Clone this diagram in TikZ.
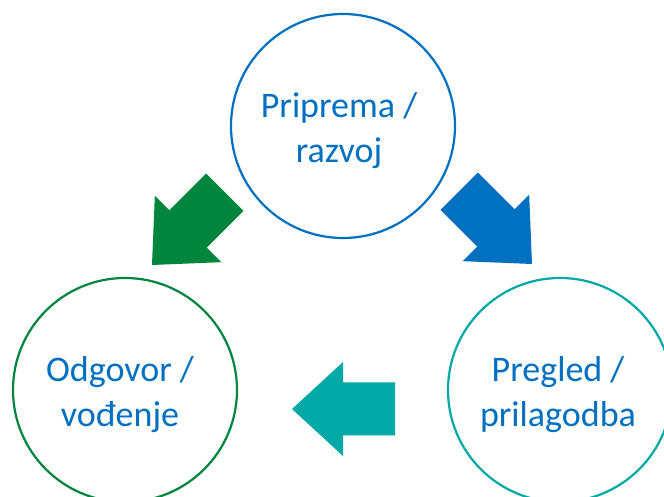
\documentclass[tikz,border=0pt]{standalone}
\usepackage{fontspec}
\setmainfont{Carlito}
\definecolor{cblue}{HTML}{0070C0}
\definecolor{cgreen}{HTML}{00853F}
\definecolor{cteal}{HTML}{00A9A6}
\begin{document}
\begin{tikzpicture}[x=1pt,y=1pt,
  ring/.style={circle,draw,line width=2.2pt,minimum size=224pt,inner sep=0pt},
  lbl/.style={align=center,text=cblue,font=\fontsize{36}{45}\selectfont,inner sep=0pt},
  blockarrow/.style={draw=none}]
\useasboundingbox (0,0) rectangle (664,497);
\fill[white] (0,0) rectangle (664,497);
\node[ring,draw=cblue] (top) at (343,371) {};
\node[ring,draw=cgreen] (left) at (125,107) {};
\node[ring,draw=cteal] (right) at (560,107) {};
\node[lbl] (ttop) at ([yshift=-4.5pt,xshift=-4pt]top.center) {Priprema /\\razvoj};
\node[lbl] (tleft) at ([yshift=-4.5pt,xshift=-5pt]left.center) {Odgovor /\\vođenje};
\node[lbl] (tright) at ([yshift=-4.5pt,xshift=-2pt]right.center) {Pregled /\\prilagodba};
\coordinate (gtip) at (152,232);
\coordinate (btip) at (532,233);
\coordinate (ttip) at (292,88);
\def\arrowshape{(0,0) -- (51,47) -- (51,26.5) -- (103,26.5) -- (103,-26.5) -- (51,-26.5) -- (51,-47) -- cycle}
\begin{scope}[shift={(gtip)},rotate=45]
  \fill[cgreen] \arrowshape;
\end{scope}
\begin{scope}[shift={(btip)},rotate=135]
  \fill[cblue] \arrowshape;
\end{scope}
\begin{scope}[shift={(ttip)},rotate=0]
  \fill[cteal] \arrowshape;
\end{scope}
\end{tikzpicture}
\end{document}
